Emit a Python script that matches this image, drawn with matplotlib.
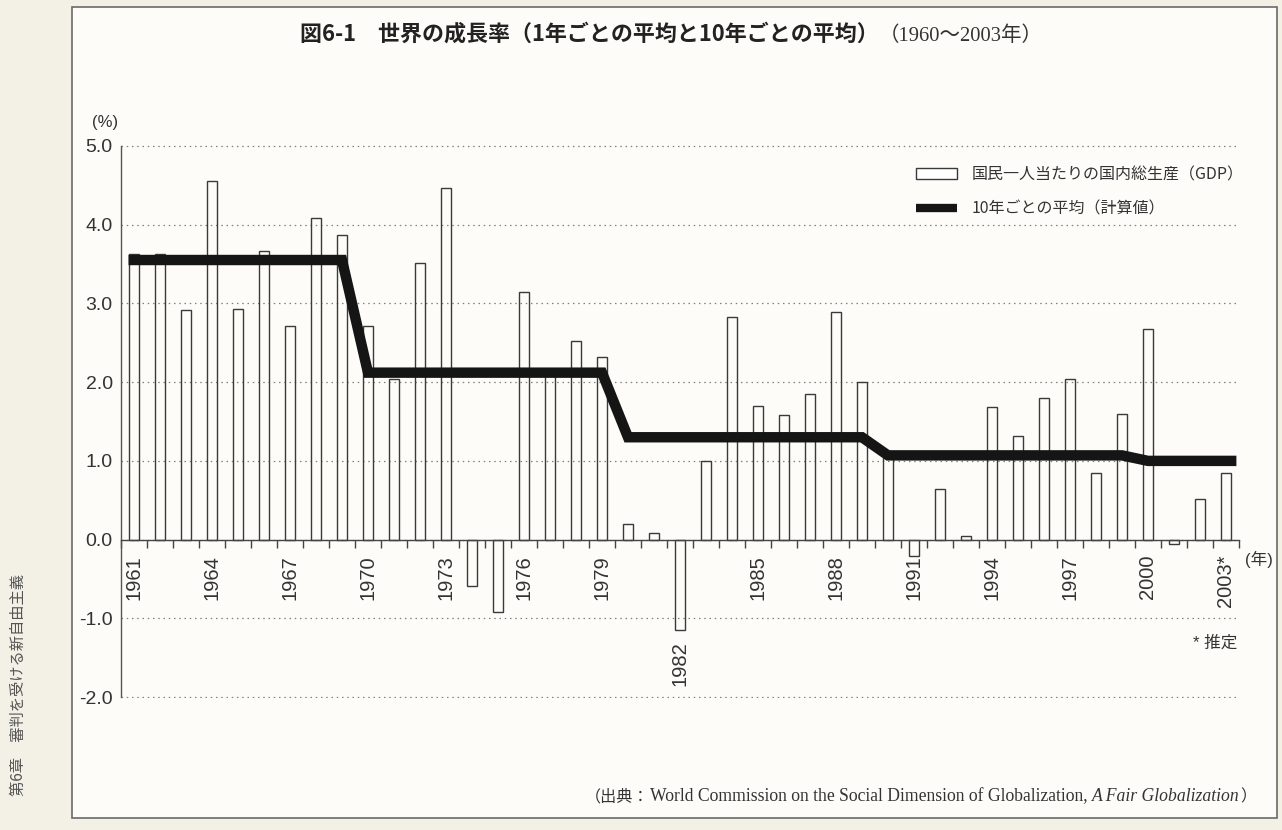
import matplotlib
matplotlib.use('Agg')
import matplotlib.pyplot as plt
from matplotlib.patches import Rectangle, Patch
from matplotlib.lines import Line2D
from matplotlib.transforms import IdentityTransform

plt.rcParams['axes.unicode_minus'] = False
plt.rcParams['font.family'] = ['Liberation Sans', 'Noto Sans CJK JP', 'DejaVu Sans']

# ---------------- data ----------------
years = list(range(1961, 2004))
growth = [3.62, 3.62, 2.92, 4.55, 2.93, 3.67, 2.71, 4.08, 3.87,
          2.71, 2.04, 3.51, 4.46, -0.59, -0.92, 3.15, 2.10, 2.52, 2.32,
          0.20, 0.08, -1.15, 1.00, 2.83, 1.70, 1.58, 1.85, 2.89, 2.00,
          1.05, -0.21, 0.64, 0.05, 1.69, 1.32, 1.80, 2.04, 0.85, 1.60,
          2.67, -0.06, 0.52, 0.85]
decade_first = [1961, 1970, 1980, 1990, 2000]
decade_last = [1969, 1979, 1989, 1999, 2003]
decade_avg = [3.55, 2.12, 1.30, 1.07, 1.00]
label_years = [1961, 1964, 1967, 1970, 1973, 1976, 1979, 1982, 1985,
               1988, 1991, 1994, 1997, 2000, 2003]
label_texts = ['1961', '1964', '1967', '1970', '1973', '1976', '1979', '1982',
               '1985', '1988', '1991', '1994', '1997', '2000', '2003*']
yticks = [-2.0, -1.0, 0.0, 1.0, 2.0, 3.0, 4.0, 5.0]

title_main = '図6-1\u3000世界の成長率（1年ごとの平均と10年ごとの平均）'
title_sub = '（1960～2003年）'
legend_bar = '国民一人当たりの国内総生産（GDP）'
legend_line = '10年ごとの平均（計算値）'
side_text = '第6章\u3000審判を受ける新自由主義'

W, H = 1282, 830
fig = plt.figure(figsize=(W / 100, H / 100), dpi=100)
fig.patch.set_facecolor('#f3f0e6')
fig.patches.append(Rectangle((72 / W, 12 / H), (1277 - 72) / W, (818 - 7) / H,
                             transform=fig.transFigure, facecolor='#fdfcf8',
                             edgecolor='#6a6a6a', linewidth=1.2, zorder=-1))

ax = fig.add_axes([121 / W, 132 / H, (1239 - 121) / W, (698 - 145) / H])
ax.set_facecolor('none')

bw = 0.42
ax.bar(years, growth, width=bw, facecolor='none', edgecolor='#3a3a3a',
       linewidth=1.0, zorder=2)

# decade average line
lx, ly = [], []
for i, (f, l, a) in enumerate(zip(decade_first, decade_last, decade_avg)):
    x0 = f - bw / 2 if i == 0 else f
    x1 = l + 0.4 if i == len(decade_first) - 1 else l
    lx += [x0, x1]
    ly += [a, a]
ax.plot(lx, ly, color='#151515', linewidth=7.5, solid_capstyle='butt',
        solid_joinstyle='miter', zorder=4)

ax.set_xlim(years[0] - 0.5, years[-1] + 0.5)
ax.set_ylim(-2.01, 5.01)

for s in ['top', 'right']:
    ax.spines[s].set_visible(False)
ax.spines['left'].set_color('#555555')
ax.spines['left'].set_linewidth(1.0)
ax.spines['left'].set_bounds(-2, 5)
ax.spines['bottom'].set_position(('data', 0))
ax.spines['bottom'].set_color('#444444')
ax.spines['bottom'].set_linewidth(1.0)

ax.set_yticks(yticks)
ax.set_yticklabels([f'{v:.1f}' for v in yticks])
ax.tick_params(axis='y', length=0, pad=6, labelsize=14, labelcolor='#333333')
ax.yaxis.grid(True, color='#808080', linestyle=(0, (1.2, 3)), linewidth=0.9)
ax.set_axisbelow(True)

ax.set_xticks(label_years)
ax.set_xticklabels(['' if t == '1982' else t for t in label_texts], rotation=90)
ax.set_xticks([y - 0.5 for y in years] + [years[-1] + 0.5], minor=True)
ax.tick_params(axis='x', which='major', length=0, pad=11, labelsize=14.5,
               labelcolor='#333333')
ax.tick_params(axis='x', which='minor', length=6, width=1.0, color='#444444',
               direction='out')
ax.annotate('1982', xy=(1982, 0), xytext=(0, -102), textcoords='offset pixels',
            rotation=90, ha='center', va='top', fontsize=14.5, color='#333333')

# axis annotations
ax.annotate('(%)', xy=(0, 1), xycoords='axes fraction', xytext=(-29, 15),
            textcoords='offset pixels', ha='left', va='bottom', fontsize=12,
            color='#333333')
ax.annotate('(年)', xy=(1, 0), xycoords=('axes fraction', 'data'),
            xytext=(6, -20), textcoords='offset pixels', ha='left',
            va='center', fontsize=12, color='#333333',
            family=['Liberation Sans', 'Noto Sans CJK JP'])
ax.annotate('* 推定', xy=(1, -1.31), xycoords=('axes fraction', 'data'),
            xytext=(-2, 0), textcoords='offset pixels', ha='right',
            va='center', fontsize=12, color='#333333',
            family=['Liberation Sans', 'Noto Sans CJK JP'])

# legend
handles = [Patch(facecolor='white', edgecolor='#3a3a3a', linewidth=1.0),
           Line2D([], [], color='#151515', linewidth=6, solid_capstyle='butt')]
ax.legend(handles, [legend_bar, legend_line], loc='upper left',
          bbox_to_anchor=(916 / W, 1 - 166 / H), bbox_transform=fig.transFigure,
          frameon=False, borderpad=0, borderaxespad=0, handlelength=2.56,
          handleheight=0.75, handletextpad=0.94, labelspacing=1.1,
          prop={'family': 'Noto Sans CJK JP', 'size': 11.5},
          labelcolor='#333333')

# ------- mixed-font text runs -------
renderer = fig.canvas.get_renderer()


def measure(runs):
    ws = []
    for s, kw in runs:
        t = fig.text(0, 0, s, transform=IdentityTransform(), **kw)
        ws.append(t.get_window_extent(renderer).width)
        t.remove()
    return ws


def place(runs, x_left, y_base_top, target_width=None, gaps=None):
    if gaps is None:
        gaps = [0] * len(runs)
    if target_width is not None:
        tot = sum(measure(runs)) + sum(gaps)
        k = (target_width - sum(gaps)) / (tot - sum(gaps))
        runs = [(s, dict(kw, fontsize=kw['fontsize'] * k)) for s, kw in runs]
    ws = measure(runs)
    x = x_left
    for (s, kw), w, g in zip(runs, ws, gaps):
        fig.text(x, H - y_base_top, s, transform=IdentityTransform(),
                 ha='left', va='baseline', **kw)
        x += w + g


cjk = ['Noto Sans CJK JP']
serif = ['Liberation Serif', 'Noto Sans CJK JP']
place([(title_main, dict(fontsize=15, family=cjk, weight='bold', color='#222222')),
       (title_sub, dict(fontsize=14, family=serif, color='#333333'))],
      300, 41, target_width=745)

place([('（出典：', dict(fontsize=11, family=cjk, color='#333333')),
       ('World Commission on the Social Dimension of Globalization,',
        dict(fontsize=12, family=serif, color='#333333')),
       ('A Fair Globalization', dict(fontsize=12, family=serif, style='italic',
                                     color='#333333')),
       ('）', dict(fontsize=11, family=cjk, color='#333333'))],
      585, 801, target_width=670, gaps=[0, 5, 0, 0])

fig.text(18 / W, 1 - 796 / H, side_text, rotation=90, ha='center', va='bottom',
         fontsize=11, family=cjk, color='#555555')

fig.savefig('out.png', dpi=100, facecolor=fig.get_facecolor())
